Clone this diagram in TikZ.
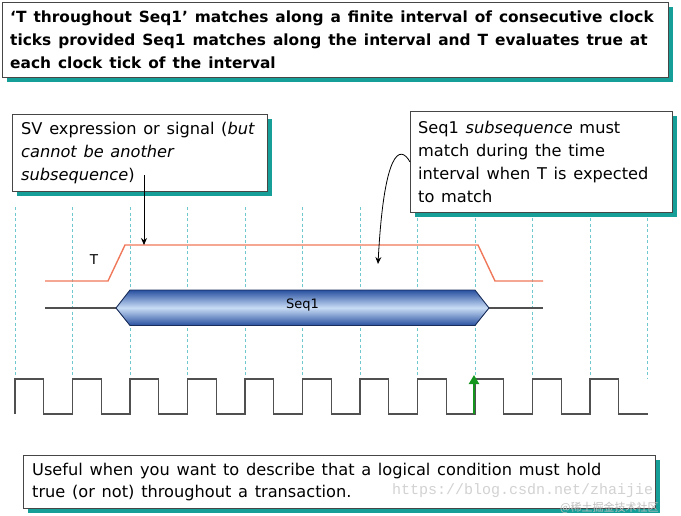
\documentclass[tikz,border=0pt]{standalone}
\usepackage{fontspec}
\setmainfont[WordSpace=1.3]{DejaVu Sans}
\newfontfamily\cjkfont{Noto Sans CJK SC}
\newfontfamily\urlfont{Liberation Mono}
\usetikzlibrary{shadows,arrows.meta}
\definecolor{shadowteal}{RGB}{22,158,152}
\definecolor{boxborder}{RGB}{70,70,70}
\definecolor{dashcol}{RGB}{110,200,205}
\definecolor{tcol}{RGB}{240,120,90}
\definecolor{sigcol}{RGB}{80,80,80}
\definecolor{seqdark}{RGB}{40,80,160}
\definecolor{seqlight}{RGB}{200,220,245}
\definecolor{seqborder}{RGB}{25,45,90}
\definecolor{greenarrow}{RGB}{20,150,30}
\begin{document}
\begin{tikzpicture}[x=1pt,y=-1pt,
  boxstyle/.style={draw=boxborder, line width=0.9pt, fill=white, anchor=north west, inner sep=0pt,
    drop shadow={shadow xshift=5pt, shadow yshift=-5pt, fill=shadowteal, opacity=1}},
  boxtext/.style={anchor=west, align=left, inner sep=0pt, font=\fontsize{16.2}{22.8}\selectfont},
  dashline/.style={dashcol, line width=0.8pt, dash pattern=on 3pt off 2.5pt},
  tsig/.style={tcol, line width=1.4pt},
  sigline/.style={sigcol, line width=1.2pt},
  clk/.style={sigcol, line width=1.3pt},
  callarrow/.style={black, line width=0.8pt, -{Stealth[length=7pt,width=6pt]}}
]
\useasboundingbox (0,0) rectangle (681,515);

% dashed clock-tick lines
\foreach \k in {0,...,11}
  \draw[dashline] ({15+57.5*\k},207) -- ({15+57.5*\k},379);

% top box
\node[boxstyle, minimum width=666pt, minimum height=75pt] (topbox) at (2,2) {};
\node[boxtext, font=\fontsize{15.4}{23}\selectfont\bfseries] (toptext) at ([xshift=8pt]topbox.west)
  {‘T throughout Seq1’ matches along a finite interval of consecutive clock\\
   ticks provided Seq1 matches along the interval and T evaluates true at\\
   each clock tick of the interval};

% left callout
\node[boxstyle, minimum width=255pt, minimum height=77pt] (lbox) at (12,114) {};
\node[boxtext] (ltext) at ([xshift=9pt]lbox.west)
  {SV expression or signal (\textit{but}\\
   \textit{cannot be another}\\
   \textit{subsequence})};

% right callout
\node[boxstyle, minimum width=262pt, minimum height=101pt] (rbox) at (410,111) {};
\node[boxtext] (rtext) at ([xshift=8pt]rbox.west)
  {Seq1 \textit{subsequence} must\\
   match during the time\\
   interval when T is expected\\
   to match};

% T signal
\node[font=\fontsize{13.5}{16}\selectfont, inner sep=0pt] (tlabel) at (94,260) {T};
\draw[tsig] (45,281) -- (108,281) -- (125,245) -- (478,245) -- (495,281) -- (543,281);

% Seq1 bus
\coordinate (seqL) at (116,308);
\coordinate (seqR) at (489,308);
\draw[sigline] (45,308) -- (seqL);
\draw[sigline] (seqR) -- (543,308);
\path[draw=seqborder, line width=0.9pt, top color=seqdark, bottom color=seqdark, middle color=seqlight]
  (seqL) -- (130,290) -- (475,290) -- (seqR) -- (475,325.5) -- (130,325.5) -- cycle;
\node[font=\fontsize{13}{15}\selectfont, inner sep=0pt] (seqlabel) at (302.5,305) {Seq1};

% callout arrows
\coordinate (a1s) at (144,175);
\coordinate (a1e) at (144,245);
\draw[callarrow] (a1s) -- (a1e);
\coordinate (a2e) at (378,264);
\draw[callarrow] (rbox.west) .. controls (400,144) and (384,150) .. (a2e);

% clock
\draw[clk] (15,414) \foreach \i in {0,...,10} {
  -- ({15+57.5*\i},379) -- ({43.75+57.5*\i},379) -- ({43.75+57.5*\i},414) -- ({72.5+57.5*\i},414) };
\coordinate (gs) at (474,414);
\coordinate (ge) at (474,375);
\draw[greenarrow, line width=2.4pt, -{Triangle[length=9pt,width=10pt]}] (gs) -- (ge);

% bottom box
\node[boxstyle, minimum width=632pt, minimum height=53pt] (bbox) at (23,455) {};
\node[boxtext] (btext) at ([xshift=9pt]bbox.west)
  {Useful when you want to describe that a logical condition must hold\\
   true (or not) throughout a transaction.};

% watermark
\node[anchor=west, inner sep=0pt, text=gray!35, font=\fontsize{15}{17}\urlfont] (wurl) at (392,491) {https://blog.csdn.net/zhaijie};
\node[anchor=west, inner sep=0pt, text=gray!50, font=\fontsize{11}{13}\cjkfont] (wcjk) at (560,508) {@稀土掘金技术社区};
\end{tikzpicture}
\end{document}
